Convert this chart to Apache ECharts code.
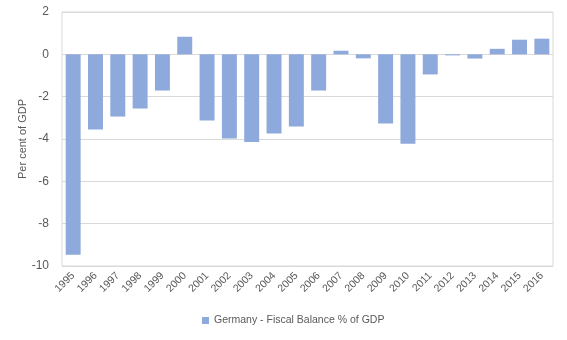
<!DOCTYPE html>
<html>
<head>
<meta charset="utf-8">
<script src="https://cdn.jsdelivr.net/npm/echarts@6/dist/echarts.min.js"></script>
<style>html,body{margin:0;padding:0;background:#fff}#c{width:567px;height:340px}</style>
</head>
<body>
<div id="c"></div>
<script>
var years = ['1995','1996','1997','1998','1999','2000','2001','2002','2003','2004','2005','2006','2007','2008','2009','2010','2011','2012','2013','2014','2015','2016'];
var balance = [-9.47,-3.55,-2.94,-2.56,-1.71,0.83,-3.13,-3.98,-4.14,-3.74,-3.41,-1.71,0.17,-0.19,-3.27,-4.23,-0.95,-0.05,-0.2,0.26,0.69,0.74];
var seriesName = 'Germany - Fiscal Balance % of GDP';
var yTicks = [-10,-8,-6,-4,-2,0,2];

var chart = echarts.init(document.getElementById('c'));
var font = 'Liberation Sans, Arial, sans-serif';
chart.setOption({
  animation: false,
  grid: {left: 62, right: 14, top: 12, bottom: 74, show: true, borderColor: '#D9D9D9', borderWidth: 1},
  legend: {
    bottom: 9, left: 197,
    itemWidth: 7, itemHeight: 7, itemGap: 4,
    textStyle: {color: '#595959', fontSize: 10.5, fontFamily: font},
    data: [{name: seriesName, icon: 'rect'}]
  },
  xAxis: {
    type: 'category', data: years,
    position: 'bottom',
    axisLine: {show: false, onZero: false},
    axisTick: {show: false},
    axisLabel: {rotate: 45, color: '#595959', fontSize: 10.5, fontFamily: font, margin: 8, interval: 0}
  },
  yAxis: {
    type: 'value', min: yTicks[0], max: yTicks[yTicks.length-1], interval: 2,
    name: 'Per cent of GDP', nameLocation: 'middle', nameGap: 34, nameMoveOverlap: false,
    nameTextStyle: {color: '#595959', fontSize: 11, fontFamily: font},
    axisLine: {show: false}, axisTick: {show: false},
    axisLabel: {color: '#595959', fontSize: 12, fontFamily: font, margin: 13},
    splitLine: {lineStyle: {color: '#D9D9D9', width: 1}}
  },
  series: [{
    name: seriesName, type: 'bar', data: balance,
    barCategoryGap: '33%',
    itemStyle: {color: '#8EA9DB'}
  }]
});
</script>
</body>
</html>
